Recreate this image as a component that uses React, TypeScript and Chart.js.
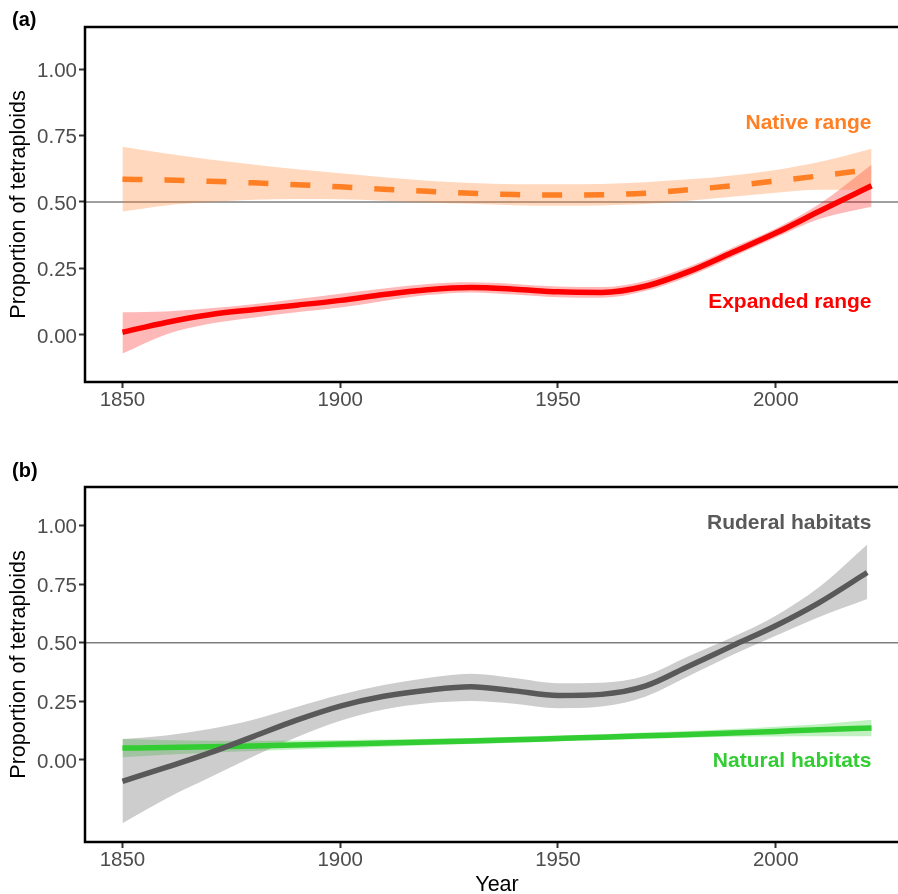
import React, { useEffect, useRef } from "react";
import { Chart, registerables } from "chart.js";

Chart.register(...registerables);

// ---------- data ----------
const years = [1850, 1860, 1870, 1880, 1890, 1900, 1910, 1920, 1930, 1940, 1950, 1960, 1970, 1980, 1990, 2000, 2010, 2022];
const ruderalYears = [1850, 1860, 1870, 1880, 1890, 1900, 1910, 1920, 1930, 1940, 1950, 1960, 1970, 1980, 1990, 2000, 2010, 2021];

const xTicks = [1850, 1900, 1950, 2000];
const yTicks = [0, 0.25, 0.5, 0.75, 1.0];

// Panel (a)
const nativeFit = [0.585, 0.583, 0.578, 0.572, 0.565, 0.557, 0.548, 0.540, 0.533, 0.528, 0.526, 0.527, 0.533, 0.546, 0.561, 0.579, 0.598, 0.623];
const nativeUpper = [0.708, 0.682, 0.660, 0.641, 0.623, 0.608, 0.593, 0.580, 0.571, 0.567, 0.567, 0.568, 0.574, 0.585, 0.600, 0.620, 0.650, 0.700];
const nativeLower = [0.464, 0.487, 0.500, 0.508, 0.511, 0.510, 0.505, 0.498, 0.493, 0.488, 0.486, 0.487, 0.492, 0.505, 0.520, 0.535, 0.546, 0.545];

const expandedFit = [0.010, 0.047, 0.076, 0.095, 0.112, 0.130, 0.152, 0.170, 0.178, 0.172, 0.162, 0.160, 0.183, 0.238, 0.310, 0.383, 0.465, 0.561];
const expandedUpper = [0.085, 0.088, 0.100, 0.115, 0.135, 0.155, 0.175, 0.192, 0.198, 0.192, 0.182, 0.180, 0.203, 0.256, 0.328, 0.400, 0.492, 0.640];
const expandedLower = [-0.070, 0.002, 0.042, 0.065, 0.085, 0.103, 0.128, 0.150, 0.160, 0.152, 0.142, 0.140, 0.165, 0.220, 0.292, 0.366, 0.436, 0.482];

// Panel (b)
const ruderalFit = [-0.091, -0.032, 0.030, 0.100, 0.170, 0.230, 0.272, 0.298, 0.313, 0.295, 0.275, 0.280, 0.315, 0.400, 0.487, 0.573, 0.672, 0.800];
const ruderalUpper = [0.090, 0.105, 0.132, 0.172, 0.226, 0.278, 0.320, 0.350, 0.368, 0.350, 0.328, 0.330, 0.360, 0.443, 0.524, 0.616, 0.738, 0.920];
const ruderalLower = [-0.270, -0.165, -0.075, 0.015, 0.097, 0.167, 0.215, 0.242, 0.252, 0.240, 0.221, 0.228, 0.270, 0.358, 0.448, 0.530, 0.610, 0.687];

const naturalFit = [0.051, 0.053, 0.056, 0.060, 0.064, 0.068, 0.072, 0.077, 0.081, 0.086, 0.092, 0.097, 0.103, 0.109, 0.115, 0.122, 0.129, 0.137];
const naturalUpper = [0.090, 0.085, 0.082, 0.082, 0.083, 0.085, 0.087, 0.091, 0.094, 0.099, 0.104, 0.110, 0.117, 0.124, 0.132, 0.142, 0.153, 0.172];
const naturalLower = [0.012, 0.022, 0.031, 0.038, 0.045, 0.051, 0.057, 0.063, 0.068, 0.074, 0.080, 0.085, 0.090, 0.095, 0.099, 0.100, 0.101, 0.101];

// ---------- styling ----------
const FONT = '"Liberation Sans", Arial, Helvetica, sans-serif';
const CANVAS_W = 912;
const CANVAS_H = 447;

type Band = {
  label: string;
  xs: number[];
  fit: number[];
  upper: number[];
  lower: number[];
  color: string;
  band: string;
  dash?: number[];
};

type Note = { text: string; x: number; y: number; color: string };

type PanelSpec = {
  tag: string;
  tagY: number;
  padTop: number;
  xAxisHeight: number;
  yMin: number;
  yMax: number;
  bands: Band[];
  notes: Note[];
  xTitle?: string;
  xTitleY?: number;
};

const panelA: PanelSpec = {
  tag: "(a)",
  tagY: 26,
  padTop: 27,
  xAxisHeight: 65,
  yMin: -0.177,
  yMax: 1.158,
  bands: [
    { label: "Native range", xs: years, fit: nativeFit, upper: nativeUpper, lower: nativeLower, color: "#FF7F24", band: "rgba(255,127,36,0.3)", dash: [20, 22] },
    { label: "Expanded range", xs: years, fit: expandedFit, upper: expandedUpper, lower: expandedLower, color: "#FF0000", band: "rgba(255,0,0,0.28)" },
  ],
  notes: [
    { text: "Native range", x: 2022, y: 0.775, color: "#FF7F24" },
    { text: "Expanded range", x: 2022, y: 0.10, color: "#FF0000" },
  ],
};

const panelB: PanelSpec = {
  tag: "(b)",
  tagY: 30,
  padTop: 40,
  xAxisHeight: 52,
  yMin: -0.35,
  yMax: 1.165,
  bands: [
    { label: "Ruderal habitats", xs: ruderalYears, fit: ruderalFit, upper: ruderalUpper, lower: ruderalLower, color: "#595959", band: "rgba(89,89,89,0.3)" },
    { label: "Natural habitats", xs: years, fit: naturalFit, upper: naturalUpper, lower: naturalLower, color: "#32CD32", band: "rgba(50,205,50,0.3)" },
  ],
  notes: [
    { text: "Ruderal habitats", x: 2022, y: 0.986, color: "#595959" },
    { text: "Natural habitats", x: 2022, y: -0.031, color: "#32CD32" },
  ],
  xTitle: "Year",
  xTitleY: 444,
};

function toPts(xs: number[], ys: number[]) {
  return xs.map((x, i) => ({ x, y: ys[i] }));
}

const curve = { cubicInterpolationMode: "monotone", tension: 0.4 };

function buildDatasets(bands: Band[]) {
  const lines = bands.map((b) => ({
    label: b.label,
    data: toPts(b.xs, b.fit),
    borderColor: b.color,
    borderWidth: 5.5,
    borderDash: b.dash || [],
    borderCapStyle: "butt",
    pointRadius: 0,
    ...curve,
    fill: false,
  }));
  const ribbons = bands.flatMap((b) => [
    {
      label: b.label + " upper",
      data: toPts(b.xs, b.upper),
      borderColor: "rgba(0,0,0,0)",
      borderWidth: 0,
      pointRadius: 0,
      ...curve,
      fill: "+1",
      backgroundColor: b.band,
    },
    {
      label: b.label + " lower",
      data: toPts(b.xs, b.lower),
      borderColor: "rgba(0,0,0,0)",
      borderWidth: 0,
      pointRadius: 0,
      ...curve,
      fill: false,
    },
  ]);
  return [...lines, ...ribbons];
}

function decorPlugin(spec: PanelSpec) {
  return {
    id: "decor",
    beforeDraw(chart: any) {
      const { ctx, chartArea: a, scales } = chart;
      const py = scales.y.getPixelForValue(0.5);
      ctx.save();
      ctx.strokeStyle = "#7F7F7F";
      ctx.lineWidth = 1.5;
      ctx.beginPath();
      ctx.moveTo(a.left, py);
      ctx.lineTo(a.right, py);
      ctx.stroke();
      ctx.restore();
    },
    afterDraw(chart: any) {
      const { ctx, chartArea: a, scales } = chart;
      ctx.save();
      // frame
      ctx.strokeStyle = "#000";
      ctx.lineWidth = 2.5;
      ctx.strokeRect(a.left, a.top, a.right - a.left, a.bottom - a.top);
      // notes
      ctx.font = `bold 21px ${FONT}`;
      ctx.textAlign = "right";
      ctx.textBaseline = "alphabetic";
      spec.notes.forEach((n) => {
        ctx.fillStyle = n.color;
        ctx.fillText(n.text, scales.x.getPixelForValue(n.x), scales.y.getPixelForValue(n.y));
      });
      // panel tag
      ctx.fillStyle = "#000";
      ctx.font = `bold 20px ${FONT}`;
      ctx.textAlign = "left";
      ctx.fillText(spec.tag, 12, spec.tagY);
      // y title
      ctx.font = `21.5px ${FONT}`;
      ctx.textAlign = "center";
      ctx.save();
      ctx.translate(25, (a.top + a.bottom) / 2);
      ctx.rotate(-Math.PI / 2);
      ctx.fillText("Proportion of tetraploids", 0, 0);
      ctx.restore();
      // x title
      if (spec.xTitle) {
        ctx.fillText(spec.xTitle, (a.left + a.right) / 2, spec.xTitleY);
      }
      ctx.restore();
    },
  };
}

function buildConfig(spec: PanelSpec): any {
  const gridOpts = {
    display: true,
    drawOnChartArea: false,
    drawTicks: true,
    tickLength: 6,
    tickWidth: 2,
    tickColor: "#333333",
  };
  return {
    type: "line",
    data: { datasets: buildDatasets(spec.bands) },
    options: {
      animation: false,
      responsive: false,
      maintainAspectRatio: false,
      devicePixelRatio: 1,
      events: [],
      layout: { padding: { left: 0, top: spec.padTop, right: 3, bottom: 0 } },
      plugins: {
        legend: { display: false },
        tooltip: { enabled: false },
        filler: { drawTime: "beforeDatasetsDraw", propagate: false },
      },
      scales: {
        x: {
          type: "linear",
          min: 1841.4,
          max: 2030.6,
          afterBuildTicks: (ax: any) => {
            ax.ticks = xTicks.map((v) => ({ value: v }));
          },
          afterFit: (s: any) => {
            s.height = spec.xAxisHeight;
          },
          grid: gridOpts,
          border: { display: false },
          ticks: {
            color: "#4D4D4D",
            font: { family: FONT, size: 20.5 },
            padding: 0,
            maxRotation: 0,
            autoSkip: false,
            callback: (v: any) => String(v),
          },
        },
        y: {
          type: "linear",
          min: spec.yMin,
          max: spec.yMax,
          afterBuildTicks: (ax: any) => {
            ax.ticks = yTicks.map((v) => ({ value: v }));
          },
          afterFit: (s: any) => {
            s.width = 85;
          },
          grid: gridOpts,
          border: { display: false },
          ticks: {
            color: "#4D4D4D",
            font: { family: FONT, size: 20.5 },
            padding: 2,
            labelOffset: 2,
            autoSkip: false,
            callback: (v: any) => Number(v).toFixed(2),
          },
        },
      },
    },
    plugins: [decorPlugin(spec)],
  };
}

function Panel({ spec, top }: { spec: PanelSpec; top: number }) {
  const ref = useRef<HTMLCanvasElement>(null);
  useEffect(() => {
    const chart = new Chart(ref.current as HTMLCanvasElement, buildConfig(spec));
    return () => chart.destroy();
  }, [spec]);
  return (
    <canvas
      ref={ref}
      width={CANVAS_W}
      height={CANVAS_H}
      style={{ position: "absolute", left: 0, top, width: CANVAS_W, height: CANVAS_H }}
    />
  );
}

export default function App() {
  return (
    <div
      style={{
        position: "absolute",
        left: 0,
        top: 0,
        width: 898,
        height: 894,
        overflow: "hidden",
        background: "#ffffff",
      }}
    >
      <Panel spec={panelA} top={0} />
      <Panel spec={panelB} top={CANVAS_H} />
    </div>
  );
}
